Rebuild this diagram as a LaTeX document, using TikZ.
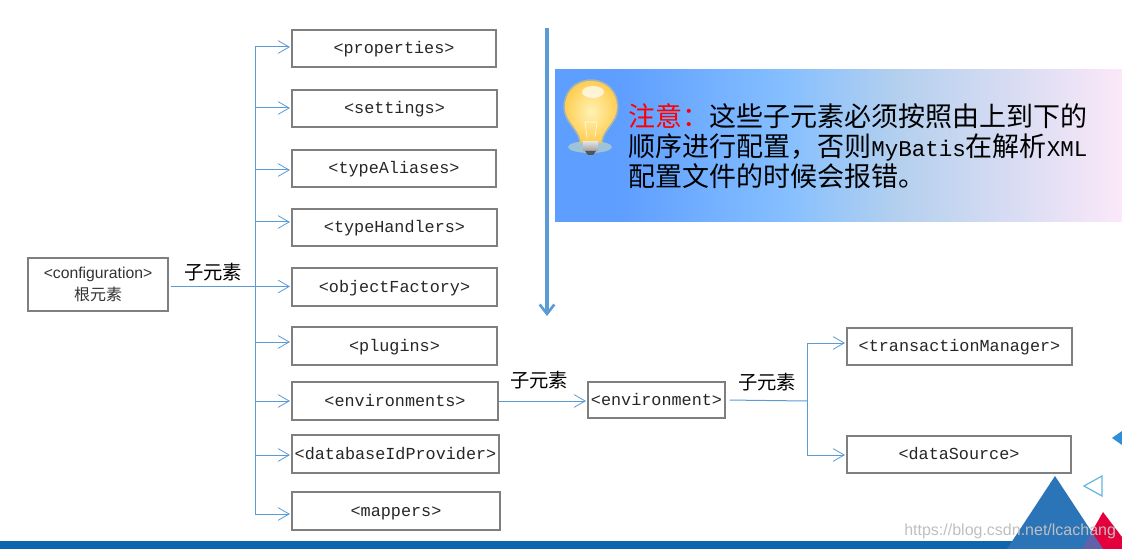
\documentclass[tikz,border=0pt]{standalone}
\usepackage{fontspec}
\setmainfont{Liberation Sans}
\setmonofont{Liberation Mono}
\newfontfamily\cjk{Noto Sans CJK SC}
\usetikzlibrary{arrows.meta}
\definecolor{linkblue}{HTML}{5B9BD5}
\definecolor{boxgray}{HTML}{7F7F7F}
\definecolor{bannerleft}{HTML}{5E9EFF}
\definecolor{bannermid}{HTML}{85BFFF}
\definecolor{bannergray}{HTML}{B4D0EE}
\definecolor{bannerright}{HTML}{FBE8F8}
\definecolor{barblue}{HTML}{1066AE}
\definecolor{triblue}{HTML}{2B74B8}
\definecolor{trired}{HTML}{E4003D}
\definecolor{trimix}{HTML}{5F62A8}
\definecolor{trisky}{HTML}{62B5DD}
\definecolor{triside}{HTML}{2E8FD8}
\definecolor{bulbedge}{HTML}{FFCF55}
\definecolor{bulbin}{HTML}{FFF2B5}
\tikzset{
    elem/.style={draw=boxgray,line width=1.1pt,inner sep=0pt,text height=9pt,text depth=1.5pt,font=\fontsize{12.6}{15}\selectfont\ttfamily,text=black!85},
    line/.style={draw=linkblue,line width=0.75pt},
    link/.style={line,-{Straight Barb[length=8.25pt,width=9.5pt,line width=0.6pt]},shorten >=1pt},
    sublabel/.style={font=\fontsize{14.5}{16}\selectfont\cjk,inner sep=0pt},
    bulb/.pic={
        \path[pic actions]
            (591,81) .. controls (607,81) and (617,93) .. (617,107)
            .. controls (617,122) and (603,128) .. (601,142) -- (581,142)
            .. controls (579,128) and (565,122) .. (565,107)
            .. controls (565,93) and (575,81) .. (591,81) -- cycle;
    },
}
\begin{document}
\begin{tikzpicture}[x=0.75pt,y=-0.75pt]
    \useasboundingbox (0,0) rectangle (1122,549);

    \shade[left color=bannerleft,right color=bannerleft] (555,70) rectangle (620,222);
    \shade[left color=bannerleft,right color=bannermid] (619.5,70) rectangle (785,222);
    \shade[left color=bannermid,right color=bannergray] (784.5,70) rectangle (900,222);
    \shade[left color=bannergray,right color=bannerright] (899.5,70) rectangle (1122,222);

    \fill[yellow!40!white,opacity=.4] (590,147) ellipse (22 and 6);
    \pic[draw=bulbedge,line width=2.5pt,opacity=.45] {bulb};
    \pic[inner color=bulbin,outer color=bulbedge] {bulb};
    \fill[white,opacity=.7] (593,92) ellipse (11 and 6);
    \draw[white,opacity=.8,line width=0.5pt] (587,137) -- (585,122) -- (597,122) -- (595,137);
    \shade[top color=gray!25,bottom color=gray!75] (583,142) rectangle (598,151);
    \fill[gray!65!black] (585,151) -- (596,151) -- (593,155) -- (588,155) -- cycle;

    \node[anchor=north west,inner sep=0pt,align=left,font=\fontsize{20.25}{22.5}\selectfont\cjk] (note) at (628,103.5)
        {\textcolor{red}{注意\symbol{"FF1A}}这些子元素必须按照由上到下的\\
        顺序进行配置\symbol{"FF0C}否则{\fontsize{16.9}{22.5}\selectfont\ttfamily MyBatis}在解析{\fontsize{16.9}{22.5}\selectfont\ttfamily XML}\\
        配置文件的时候会报错。};

    \foreach \name/\x/\y/\w/\h in {
        properties/394/48.5/204/37,
        settings/394.5/108.5/205/37,
        typeAliases/394/168.5/204/37,
        typeHandlers/394.5/227.5/205/37,
        objectFactory/394.5/287/205/38,
        plugins/394.5/346/205/38,
        environments/395/401/206/38,
        databaseIdProvider/395.5/454/207/38,
        mappers/396/511/208/38,
        environment/656.5/400/137/36,
        transactionManager/959.5/346.5/225/37,
        dataSource/959/454.5/224/37}
        \node[elem,minimum width=\w*0.75pt,minimum height=\h*0.75pt] (\name) at (\x,\y) {<\name>};

    \node[draw=boxgray,line width=1.1pt,minimum width=105pt,minimum height=39.75pt,inner sep=0pt,align=center,text=black!80] (configuration) at (98,284.5)
        {\fontsize{11.8}{15}\selectfont <configuration>\\[3.5pt] \fontsize{12}{15}\selectfont\cjk 根元素};

    \node[sublabel] (label1) at (213,272) {子元素};
    \node[sublabel] (label2) at (539,380) {子元素};
    \node[sublabel] (label3) at (767,382) {子元素};

    \foreach \name/\yy in {properties/47,settings/108,typeAliases/170,typeHandlers/222,objectFactory/286.5,plugins/342,environments/401,databaseIdProvider/455,mappers/514}{
        \coordinate (t-\name) at (255,\yy);
        \draw[link] (t-\name) -- (\name.west |- t-\name);
    }
    \draw[line] (t-properties) -- (t-mappers);
    \draw[line,shorten <=2pt] (configuration.east |- t-objectFactory) -- (t-objectFactory);

    \draw[link] (environments.east) -- (environment.west |- environments.east);

    \coordinate (split) at (807,401);
    \coordinate (t-manager) at (807,343);
    \coordinate (t-source) at (807,455);
    \draw[line,shorten <=3pt] (environment.east) -- (split);
    \draw[line] (t-manager) -- (t-source);
    \draw[link] (t-manager) -- (transactionManager.west |- t-manager);
    \draw[link] (t-source) -- (dataSource.west |- t-source);

    \coordinate (orderstart) at (547,28);
    \coordinate (orderend) at (547,316);
    \draw[draw=linkblue,line width=2.6pt,-{Straight Barb[length=7pt,width=11pt,line width=2pt]}] (orderstart) -- (orderend);

    \fill[barblue] (0,541) rectangle (1012,549);
    \fill[trired] (1103,512) -- (1082,549) -- (1122,549) -- (1122,537) -- cycle;
    \fill[triblue] (1055,476) -- (1007,549) -- (1103,549) -- cycle;
    \fill[trimix] (1091.7,532) -- (1082,549) -- (1103,549) -- cycle;
    \draw[trisky,line width=0.9pt] (1084,486) -- (1102,476) -- (1102,496) -- cycle;
    \fill[triside] (1112,438) -- (1122,431) -- (1122,445) -- cycle;

    \node[text=gray!50,font=\fontsize{12}{14}\selectfont,inner sep=0pt,anchor=west] (watermark) at (904,531) {https://blog.csdn.net/lcachang};
\end{tikzpicture}
\end{document}
